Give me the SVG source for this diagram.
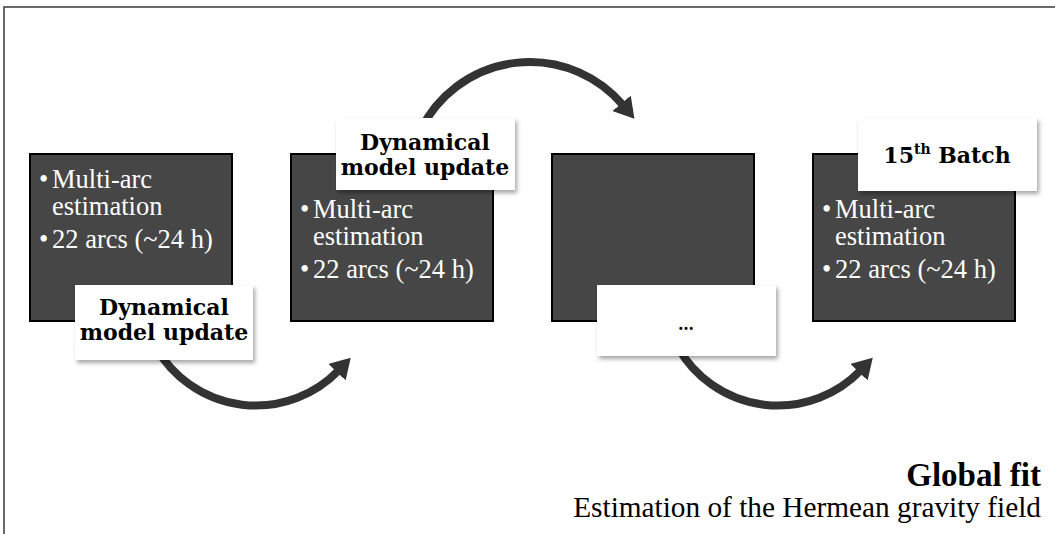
<svg xmlns="http://www.w3.org/2000/svg" width="1055" height="534" viewBox="0 0 1055 534">
  <defs>
    <filter id="shadow" x="-10%" y="-10%" width="130%" height="140%">
      <feDropShadow dx="2" dy="3" stdDeviation="2" flood-color="#000" flood-opacity="0.35"/>
    </filter>
    <marker id="head" viewBox="0 0 20 24" markerWidth="20" markerHeight="24" refX="3" refY="12" orient="auto" markerUnits="userSpaceOnUse">
      <path d="M0,0 L20,12 L0,24 z" fill="#333333"/>
    </marker>
  </defs>
  <style>
    .frame { stroke: #3a3a3a; stroke-width: 1.5; fill: none; }
    .box { fill: #464646; stroke: #000; stroke-width: 2; }
    .label { fill: #fff; filter: url(#shadow); }
    .bt { font-family: "Liberation Serif", "Times New Roman", serif; font-size: 26.5px; fill: #fff; }
    .lt { font-family: "DejaVu Serif", serif; font-weight: bold; font-size: 22px; fill: #000; text-anchor: middle; }
    .conn { fill: none; stroke: #333333; stroke-width: 8; marker-end: url(#head); }
    .title { font-family: "Liberation Serif", "Times New Roman", serif; font-weight: bold; font-size: 33px; fill: #000; text-anchor: end; }
    .sub { font-family: "Liberation Serif", "Times New Roman", serif; font-size: 29.3px; fill: #000; text-anchor: end; }
  </style>

  <rect width="1055" height="534" fill="#fff"/>
  <path class="frame" d="M4,534 L4,7 L1055,7"/>

  <g id="connectors">
    <path class="conn" d="M156,347.5 A115,115 0 0 0 339,370"/>
    <path class="conn" d="M420.6,130 A122,122 0 0 1 623.5,105.6"/>
    <path class="conn" d="M678,347.5 A115,115 0 0 0 861,370"/>
  </g>

  <g id="batch1">
    <rect class="box" x="30" y="154" width="202" height="167"/>
    <text class="bt"><tspan x="39" y="188">•</tspan><tspan x="52" y="188">Multi-arc</tspan><tspan x="52" y="215">estimation</tspan><tspan x="39" y="248">•</tspan><tspan x="52" y="248">22 arcs (~24 h)</tspan></text>
  </g>
  <g id="batch2">
    <rect class="box" x="291" y="154" width="202" height="167"/>
    <text class="bt"><tspan x="300" y="218">•</tspan><tspan x="313" y="218">Multi-arc</tspan><tspan x="313" y="245">estimation</tspan><tspan x="300" y="278">•</tspan><tspan x="313" y="278">22 arcs (~24 h)</tspan></text>
  </g>
  <g id="batch3">
    <rect class="box" x="552" y="154" width="202" height="167"/>
  </g>
  <g id="batch15">
    <rect class="box" x="813" y="154" width="202" height="167"/>
    <text class="bt"><tspan x="822" y="218">•</tspan><tspan x="835" y="218">Multi-arc</tspan><tspan x="835" y="245">estimation</tspan><tspan x="822" y="278">•</tspan><tspan x="835" y="278">22 arcs (~24 h)</tspan></text>
  </g>

  <g id="update1">
    <rect class="label" x="75" y="285" width="178" height="75"/>
    <text class="lt"><tspan x="164" y="315">Dynamical</tspan><tspan x="164" y="340">model update</tspan></text>
  </g>
  <g id="update2">
    <rect class="label" x="336" y="118" width="179" height="72"/>
    <text class="lt"><tspan x="425" y="150">Dynamical</tspan><tspan x="425" y="175">model update</tspan></text>
  </g>
  <g id="ellipsis">
    <rect class="label" x="597" y="285" width="179" height="71"/>
    <text class="lt" x="686" y="330" style="font-size:16px">…</text>
  </g>
  <g id="batch15-label">
    <rect class="label" x="858" y="118" width="179" height="73"/>
    <text class="lt" x="947" y="163">15<tspan dy="-9" style="font-size:14px">th</tspan><tspan dy="9"> Batch</tspan></text>
  </g>

  <g id="global-fit">
    <text class="title" x="1041" y="486">Global fit</text>
    <text class="sub" x="1041" y="517">Estimation of the Hermean gravity field</text>
  </g>
</svg>
